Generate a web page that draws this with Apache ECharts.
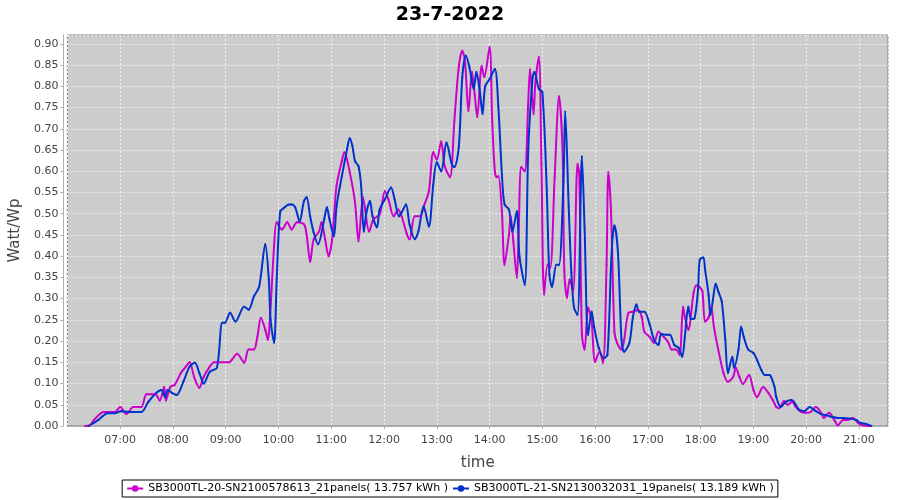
<!DOCTYPE html>
<html>
<head>
<meta charset="utf-8">
<script src="https://cdn.jsdelivr.net/npm/echarts@6/dist/echarts.min.js"></script>
<style>
html,body{margin:0;padding:0;background:#fff;}
#chart{width:900px;height:500px;}
</style>
</head>
<body>
<div id="chart"></div>
<script>
const chartTitle = "23-7-2022";
const magentaName = "SB3000TL-20-SN2100578613_21panels( 13.757 kWh )";
const blueName = "SB3000TL-21-SN2130032031_19panels( 13.189 kWh )";

const magentaTimes = ["06:20","06:26","06:30","06:38","06:41","06:54","07:00","07:07","07:15","07:24","07:30","07:40","07:45","07:50","07:52","07:57","08:02","08:09","08:14","08:19","08:24","08:30","08:35","08:41","08:47","08:52","09:04","09:07","09:13","09:21","09:26","09:32","09:36","09:40","09:45","09:48","09:50","09:55","09:58","10:04","10:10","10:15","10:21","10:29","10:32","10:36","10:40","10:46","10:49","10:53","10:57","11:01","11:06","11:12","11:15","11:21","11:27","11:31","11:36","11:38","11:43","11:48","11:55","12:01","12:05","12:11","12:16","12:20","12:26","12:29","12:35","12:41","12:46","12:51","12:56","13:00","13:05","13:09","13:15","13:20","13:25","13:29","13:32","13:36","13:40","13:43","13:46","13:51","13:54","14:00","14:03","14:06","14:08","14:10","14:14","14:17","14:22","14:24","14:27","14:31","14:33","14:36","14:40","14:44","14:46","14:50","14:52","14:56","14:59","15:02","15:06","15:09","15:14","15:19","15:23","15:25","15:28","15:31","15:35","15:40","15:42","15:45","15:48","15:52","15:56","16:00","16:05","16:09","16:13","16:15","16:18","16:22","16:25","16:30","16:33","16:38","16:43","16:49","16:53","16:56","17:02","17:07","17:12","17:18","17:23","17:27","17:32","17:36","17:40","17:42","17:46","17:52","17:55","17:59","18:02","18:05","18:09","18:12","18:15","18:20","18:26","18:31","18:37","18:40","18:44","18:48","18:55","19:00","19:04","19:11","19:17","19:22","19:26","19:29","19:35","19:39","19:44","19:48","19:54","20:00","20:05","20:11","20:17","20:20","20:26","20:32","20:36","20:42","20:47","20:53","20:59","21:04","21:14"];
const magentaValues = [0,0.002,0.014,0.030,0.033,0.033,0.045,0.028,0.045,0.045,0.075,0.075,0.060,0.092,0.060,0.092,0.097,0.125,0.138,0.150,0.116,0.090,0.116,0.137,0.150,0.150,0.150,0.156,0.170,0.149,0.180,0.180,0.210,0.255,0.227,0.203,0.243,0.423,0.480,0.463,0.480,0.463,0.480,0.475,0.450,0.387,0.440,0.458,0.480,0.440,0.400,0.440,0.565,0.624,0.645,0.598,0.527,0.435,0.539,0.517,0.458,0.487,0.498,0.553,0.534,0.494,0.510,0.494,0.452,0.440,0.494,0.494,0.522,0.553,0.645,0.628,0.670,0.612,0.586,0.720,0.846,0.884,0.860,0.742,0.834,0.782,0.728,0.848,0.822,0.893,0.718,0.600,0.586,0.588,0.506,0.380,0.450,0.494,0.435,0.350,0.450,0.610,0.600,0.765,0.840,0.735,0.806,0.869,0.617,0.310,0.380,0.373,0.586,0.777,0.647,0.364,0.302,0.345,0.317,0.617,0.593,0.215,0.180,0.279,0.246,0.151,0.175,0.149,0.380,0.598,0.510,0.220,0.196,0.180,0.203,0.267,0.269,0.274,0.257,0.222,0.210,0.196,0.222,0.210,0.198,0.180,0.180,0.168,0.281,0.257,0.227,0.314,0.331,0.327,0.317,0.246,0.255,0.281,0.234,0.180,0.125,0.104,0.116,0.137,0.116,0.099,0.120,0.085,0.068,0.092,0.078,0.061,0.045,0.042,0.059,0.050,0.057,0.045,0.033,0.031,0.033,0.045,0.031,0.019,0.031,0.014,0.002,0.014,0.014,0.019,0.007,0.002,0.000];

const blueTimes = ["06:24","06:35","06:46","06:54","07:01","07:09","07:24","07:32","07:41","07:47","07:51","07:54","07:59","08:04","08:12","08:19","08:25","08:30","08:35","08:42","08:50","08:56","08:59","09:05","09:11","09:21","09:26","09:32","09:38","09:45","09:49","09:51","09:55","09:58","10:02","10:07","10:12","10:15","10:19","10:24","10:29","10:32","10:36","10:40","10:45","10:52","10:55","10:58","11:03","11:06","11:12","11:18","11:21","11:24","11:27","11:31","11:34","11:37","11:40","11:44","11:47","11:52","11:55","12:01","12:08","12:12","12:17","12:20","12:25","12:29","12:35","12:39","12:45","12:51","12:56","13:00","13:05","13:11","13:17","13:20","13:25","13:29","13:33","13:37","13:42","13:45","13:49","13:52","13:55","14:00","14:06","14:10","14:14","14:17","14:22","14:26","14:31","14:34","14:40","14:44","14:49","14:51","14:56","15:00","15:05","15:08","15:11","15:16","15:19","15:24","15:26","15:30","15:33","15:36","15:40","15:45","15:48","15:52","15:56","15:59","16:04","16:10","16:14","16:18","16:20","16:22","16:26","16:30","16:33","16:39","16:43","16:47","16:50","16:56","17:02","17:07","17:12","17:15","17:21","17:25","17:30","17:35","17:39","17:42","17:46","17:49","17:53","17:57","17:59","18:03","18:05","18:09","18:11","18:14","18:17","18:20","18:24","18:28","18:31","18:36","18:38","18:43","18:46","18:49","18:54","19:00","19:04","19:09","19:13","19:18","19:20","19:24","19:26","19:31","19:37","19:43","19:46","19:52","19:58","20:04","20:11","20:17","20:22","20:30","20:36","20:43","20:51","20:57","21:02","21:08","21:14"];
const blueValues = [0,0.014,0.030,0.030,0.035,0.033,0.033,0.057,0.078,0.085,0.068,0.085,0.078,0.073,0.105,0.140,0.149,0.125,0.100,0.128,0.137,0.243,0.243,0.267,0.246,0.281,0.274,0.305,0.328,0.428,0.345,0.250,0.196,0.345,0.505,0.515,0.522,0.522,0.515,0.482,0.530,0.539,0.494,0.456,0.428,0.487,0.515,0.487,0.447,0.517,0.588,0.652,0.678,0.660,0.624,0.612,0.565,0.458,0.503,0.530,0.494,0.468,0.510,0.534,0.562,0.534,0.494,0.503,0.522,0.475,0.440,0.458,0.517,0.470,0.569,0.621,0.600,0.668,0.617,0.610,0.657,0.822,0.872,0.846,0.794,0.834,0.787,0.735,0.800,0.817,0.841,0.751,0.593,0.522,0.510,0.458,0.506,0.400,0.333,0.652,0.822,0.834,0.794,0.787,0.558,0.357,0.328,0.380,0.380,0.576,0.740,0.515,0.361,0.279,0.262,0.635,0.468,0.215,0.269,0.232,0.185,0.160,0.168,0.373,0.447,0.472,0.408,0.203,0.175,0.196,0.257,0.286,0.269,0.269,0.239,0.203,0.191,0.217,0.215,0.215,0.191,0.184,0.163,0.210,0.281,0.252,0.254,0.321,0.392,0.397,0.369,0.309,0.262,0.298,0.335,0.317,0.293,0.203,0.125,0.163,0.137,0.180,0.234,0.210,0.180,0.172,0.156,0.132,0.120,0.120,0.116,0.092,0.068,0.045,0.057,0.061,0.057,0.038,0.035,0.045,0.035,0.028,0.026,0.021,0.019,0.019,0.017,0.014,0.007,0.005,0.000];

function toMin(t){const p=t.split(':');return (+p[0])*60+(+p[1]);}
function pad(n){return (n<10?'0':'')+n;}
function pairs(times, vals){return times.map((t,i)=>[toMin(t), vals[i]]);}

const FONT = 'DejaVu Sans';
const chart = echarts.init(document.getElementById('chart'), null, {renderer:'canvas'});
chart.setOption({
  animation:false,
  backgroundColor:'#ffffff',
  title:{text:chartTitle,left:'center',top:1,textStyle:{fontFamily:FONT,fontSize:19,fontWeight:'bold',color:'#000'}},
  grid:{left:66,right:12,top:35,bottom:74,show:true,backgroundColor:'#cccccc',borderColor:'#808080',borderWidth:1},
  legend:{
    bottom:3,left:'center',
    data:[magentaName,blueName],
    borderColor:'#000',borderWidth:1,padding:[3,4,3,4],
    itemGap:4,itemWidth:16,itemHeight:8,
    textStyle:{fontFamily:FONT,fontSize:11,color:'#000'}
  },
  xAxis:{
    type:'value',min:360,max:1293,interval:60,
    name:'time',nameLocation:'middle',nameGap:26,
    nameTextStyle:{fontFamily:FONT,fontSize:15,color:'#444'},
    offset:4,
    axisLine:{show:true,lineStyle:{color:'#b0b0b0'}},
    axisTick:{show:true,length:3,lineStyle:{color:'#b0b0b0'}},
    axisLabel:{fontFamily:FONT,fontSize:11,color:'#444',margin:5,showMinLabel:false,showMaxLabel:false,
      formatter:v=>pad(Math.floor(v/60))+':'+pad(v%60)},
    splitLine:{show:true,lineStyle:{color:'#f0f0f0',type:[2,2],width:1}}
  },
  yAxis:{
    type:'value',min:0,max:0.921,interval:0.05,
    name:'Watt/Wp',nameLocation:'middle',nameGap:34,nameRotate:90,
    nameTextStyle:{fontFamily:FONT,fontSize:15,color:'#444'},
    offset:4,
    axisLine:{show:true,lineStyle:{color:'#b0b0b0'}},
    axisTick:{show:true,length:3,lineStyle:{color:'#b0b0b0'}},
    axisLabel:{fontFamily:FONT,fontSize:11,color:'#444',margin:5,showMaxLabel:false,
      formatter:v=>v.toFixed(2)},
    splitLine:{show:true,lineStyle:{color:'#f0f0f0',type:[2,2],width:1}}
  },
  series:[
    {name:magentaName,type:'line',data:pairs(magentaTimes,magentaValues),smooth:0.3,
     symbol:'circle',symbolSize:2,showSymbol:true,
     lineStyle:{color:'#cc00cc',width:2},itemStyle:{color:'#cc00cc'}},
    {name:blueName,type:'line',data:pairs(blueTimes,blueValues),smooth:0.3,
     symbol:'circle',symbolSize:2,showSymbol:true,
     lineStyle:{color:'#0033cc',width:2},itemStyle:{color:'#0033cc'}}
  ]
});
</script>
</body>
</html>
